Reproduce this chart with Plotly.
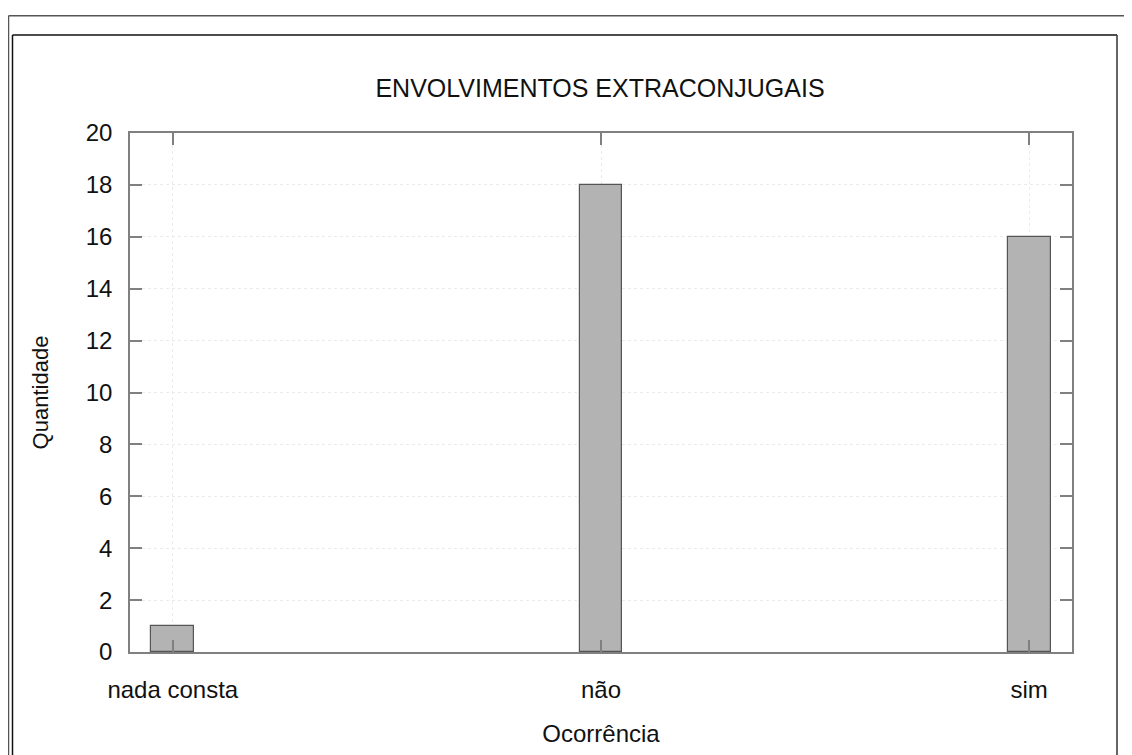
import plotly.graph_objects as go

categories = ["nada consta", "não", "sim"]
counts = [1, 18, 16]
y_ticks = list(range(0, 21, 2))

title_text = "ENVOLVIMENTOS EXTRACONJUGAIS"
x_title = "Ocorrência"
y_title = "Quantidade"

OFF = 8  # page body margin
W, H = 1132 - OFF, 755 - OFF
L, R, T, B = 130 - OFF, 1072 - OFF, 133 - OFF, 657 - OFF

def px(x):
    return (x - OFF - L) / (R - L)

def py(y):
    return (B - (y - OFF)) / (B - T)

fig = go.Figure()
fig.add_trace(go.Bar(
    x=categories, y=counts, width=0.1,
    marker=dict(color="#b3b3b3", line=dict(color="#555555", width=1.2)),
))

font = "Liberation Sans, Arial, sans-serif"
axis_common = dict(
    showline=True, linecolor="#808080", linewidth=1.5, mirror="ticks",
    ticks="inside", ticklen=12, tickcolor="#808080", tickwidth=1.5,
    showgrid=True, gridcolor="#ebebeb", griddash="dot", gridwidth=1,
    zeroline=False,
    tickfont=dict(family=font, size=24, color="#111111"),
)

fig.update_layout(
    width=W, height=H,
    margin=dict(l=L, r=W - R, t=T, b=H - B, pad=0),
    paper_bgcolor="white", plot_bgcolor="white",
    showlegend=False,
    bargap=0,
    title=dict(text=title_text, xref="container", x=(600 - OFF) / W, xanchor="center",
               yref="container", y=1 - (88 - OFF) / H, yanchor="middle",
               font=dict(family=font, size=25, color="#111111")),
    xaxis=dict(axis_common, range=[-0.1, 2.1], type="category", ticklabelstandoff=15,
               title=dict(text=x_title, font=dict(family=font, size=24, color="#111111"), standoff=24)),
    yaxis=dict(axis_common, range=[0, 20], tickvals=y_ticks, ticklabelstandoff=11,
               title=dict(text=y_title, font=dict(family=font, size=22, color="#111111"), standoff=31)),
)

# outer and inner frames
shapes = []
def line(x0, y0, x1, y1, color, w):
    shapes.append(dict(type="line", xref="paper", yref="paper",
                       x0=px(x0), y0=py(y0), x1=px(x1), y1=py(y1),
                       line=dict(color=color, width=w)))

line(8.5, 14.5, 1140, 14.5, "#555555", 1.5)
line(8.5, 14.5, 8.5, 770, "#555555", 1.5)
line(12.5, 34, 1117, 34, "#111111", 1.5)
line(12.5, 34, 12.5, 770, "#111111", 1.5)
line(1117, 34, 1117, 770, "#333333", 1.5)
fig.update_layout(shapes=shapes)

fig.write_html("out.html")
